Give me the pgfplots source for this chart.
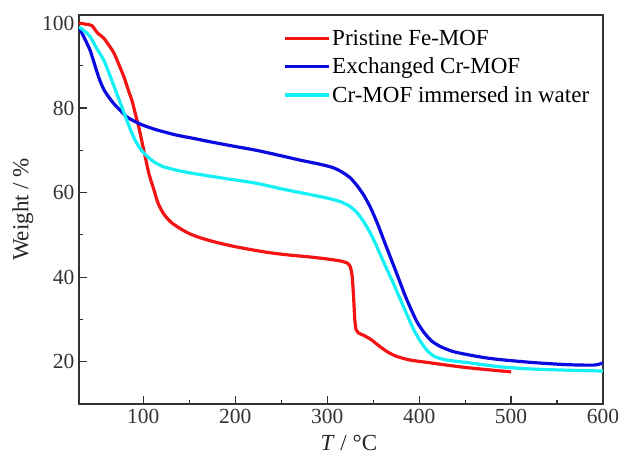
\documentclass[border=0pt]{standalone}
\usepackage{fontspec}
\setmainfont{Liberation Serif}
\usepackage{pgfplots}
\pgfplotsset{compat=1.18}
\definecolor{cred}{RGB}{245,20,20}
\definecolor{cblue}{RGB}{10,10,225}
\definecolor{ccyan}{RGB}{20,240,245}
\begin{document}
\begin{tikzpicture}
\begin{axis}[
  scale only axis, width=524pt, height=389pt,
  xmin=30, xmax=600, ymin=10, ymax=102,
  xtick={100,200,300,400,500,600},
  ytick={20,40,60,80,100},
  minor x tick num=1, minor y tick num=1,
  tick align=inside, major tick length=8pt, minor tick length=4pt,
  xtick pos=bottom, ytick pos=left,
  axis line style={line width=1.2pt, black!80},
  every tick/.style={black!80, line width=1.2pt},
  /pgf/number format/assume math mode=true,
  tick label style={font=\fontsize{21.5}{23}\selectfont, text=black!80},
  xticklabel style={yshift=-2pt},
  yticklabel style={xshift=-1pt},
  xlabel={\textit{T} / °C},
  ylabel={Weight / \%},
  label style={font=\fontsize{23}{25}\selectfont, text=black!85},
  xlabel style={at={(axis description cs:0.515,-0.1)}, anchor=center},
  ylabel style={at={(axis description cs:-0.107,0.5)}, anchor=center},
  legend style={draw=none, fill=none, at={(axis description cs:0.389,0.967)}, anchor=north west,
    font=\fontsize{23}{25}\selectfont, inner sep=0pt, row sep=7pt,
    legend cell align=left},
  legend image code/.code={\draw[#1] (0pt,0pt) -- (44pt,0pt);},
  every axis plot/.append style={line width=3.2pt, smooth, tension=0.4},
]
\addplot[cred] coordinates {
(30,100.1)(38,99.8)(44,99.5)(50,97.8)(57,96.5)(63,94.7)(68,93)(73,90.5)(79,87.3)
(84,84)(88,81.5)(92,78)(95,75.5)(99,71.5)(102,68.5)(106,64.5)(111,61)(116,57.5)
(122,55)(130,53)(140,51.5)(150,50.3)(162,49.3)(180,48.2)(198,47.3)(220,46.4)
(240,45.7)(260,45.2)(280,44.8)(300,44.3)(315,43.8)(322,43.3)(325,42.5)(327,40.5)
(328.5,36)(330,30)(331.5,27.5)(334,26.8)(340,26.2)(348,25.2)(356,23.8)(365,22.4)
(375,21.3)(390,20.4)(410,19.8)(430,19.2)(452,18.6)(475,18.1)(500,17.6)};
\addlegendentry{Pristine Fe-MOF}
\addplot[cblue] coordinates {
(30,99)(36,96.5)(42,93.7)(46,91)(50,88.2)(54,85.8)(58,84)(63,82.4)(68,81)
(75,79.4)(82,77.9)(90,76.9)(100,75.9)(115,74.8)(136,73.6)(155,72.8)(173,72)
(200,70.9)(223,70)(250,68.7)(270,67.7)(290,66.8)(305,66)(315,65)(325,63.5)
(333,61.5)(340,59.3)(347,56.5)(355,52.5)(362,48.5)(370,44)(378,39.5)(385,35.5)
(392,32)(398,29.3)(405,27)(413,25)(423,23.6)(437,22.4)(452,21.7)(470,21.0)
(488,20.5)(524,19.8)(561,19.3)(590,19.2)(600,19.7)};
\addlegendentry{Exchanged Cr-MOF}
\addplot[ccyan] coordinates {
(30,99.2)(36,98.2)(42,96.9)(49,94.2)(57,91.3)(64,87.5)(71,83.5)(77,80)(82,77.1)
(88,73.8)(93,71.6)(98,70)(104,68.6)(112,67.2)(122,66.1)(138,65.2)(155,64.5)
(190,63.3)(223,62.2)(252,60.8)(280,59.6)(300,58.7)(315,57.8)(325,56.7)(333,55.1)
(340,53)(348,50)(356,46.2)(364,42.3)(372,38.5)(380,34.5)(388,30.5)(395,27.2)
(402,24.6)(409,22.6)(417,21.2)(430,20.4)(452,19.8)(488,18.8)(520,18.3)(560,18.0)
(600,17.8)};
\addlegendentry{Cr-MOF immersed in water}
\end{axis}
\path (-79pt,-58pt) rectangle (544pt,404pt);
\end{tikzpicture}
\end{document}
